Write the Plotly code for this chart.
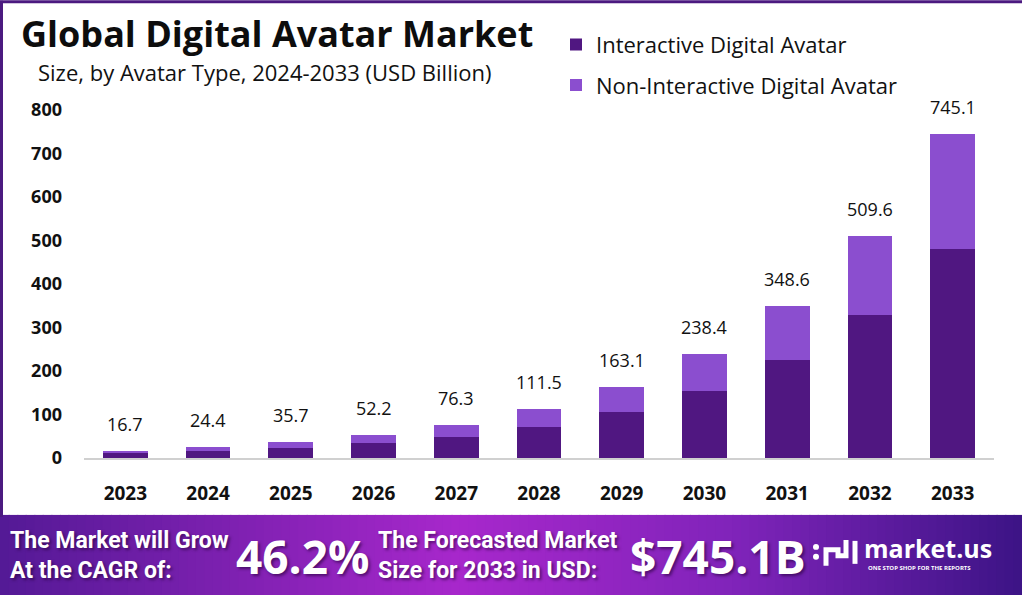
import plotly.graph_objects as go

years = ["2023", "2024", "2025", "2026", "2027", "2028", "2029", "2030", "2031", "2032", "2033"]
interactive = [10.8, 15.7, 23.0, 33.7, 49.2, 71.9, 105.2, 153.8, 224.8, 328.7, 481.0]
non_interactive = [5.9, 8.7, 12.7, 18.5, 27.1, 39.6, 57.9, 84.6, 123.8, 180.9, 264.1]
totals = [16.7, 24.4, 35.7, 52.2, 76.3, 111.5, 163.1, 238.4, 348.6, 509.6, 745.1]
y_ticks = [0, 100, 200, 300, 400, 500, 600, 700, 800]

DARK = "#501781"
LIGHT = "#8b4ecf"
FONT = "Open Sans"
COND = "Roboto"

fig = go.Figure()
fig.add_trace(go.Bar(x=years, y=interactive, name="Interactive Digital Avatar",
                     marker=dict(color=DARK, line=dict(width=0)), legendgroup="a"))
fig.add_trace(go.Bar(x=years, y=non_interactive, name="Non-Interactive Digital Avatar",
                     marker=dict(color=LIGHT, line=dict(width=0)), legendgroup="b"))

for i, t in enumerate(totals):
    fig.add_annotation(x=i, y=t, xref="x", yref="y", text=f"{t}", showarrow=False, yanchor="bottom",
                       yshift=13, font=dict(family=FONT, size=18, color="#111"))

L, R, T, B = 84, 994, 100.5, 458
def px(x):
    return (x - L) / (R - L)
def py(y):
    return (B - y) / (B - T)

shapes = []
stops = [(0.0, (84, 26, 150)), (0.45, (168, 40, 204)), (0.72, (128, 36, 186)), (1.0, (60, 20, 134))]
def col(t):
    for i in range(len(stops) - 1):
        a, ca = stops[i]
        b, cb = stops[i + 1]
        if a <= t <= b:
            f = (t - a) / (b - a)
            return "rgb(%d,%d,%d)" % tuple(int(ca[k] + (cb[k] - ca[k]) * f) for k in range(3))
    return "rgb(60,20,134)"
N = 120
for i in range(N):
    x0 = i * 1022 / N
    x1 = (i + 1) * 1022 / N + 1.5
    shapes.append(dict(type="rect", xref="paper", yref="paper", x0=px(x0), x1=px(x1),
                       y0=py(596), y1=py(515), fillcolor=col((i + 0.5) / N),
                       line=dict(width=0), layer="above"))
# border
shapes.append(dict(type="line", xref="paper", yref="paper", x0=px(0), x1=px(1022), y0=py(1), y1=py(1),
                   line=dict(color="#4b1a80", width=3), layer="above"))
shapes.append(dict(type="line", xref="paper", yref="paper", x0=px(1.5), x1=px(1.5), y0=py(0), y1=py(517),
                   line=dict(color="#4b1a80", width=3), layer="above"))
# logo icon (simple path)
pts = [(826, 566), (826, 550), (838, 550), (838, 556), (846, 556), (846, 540)]
path = "M " + " L ".join(f"{px(x)},{py(y)}" for x, y in pts)
shapes.append(dict(type="path", xref="paper", yref="paper", path=path,
                   line=dict(color="white", width=5), layer="above"))
for yy in (547, 557):
    shapes.append(dict(type="circle", xref="paper", yref="paper", x0=px(813), x1=px(819),
                       y0=py(yy + 3), y1=py(yy - 3), fillcolor="white", line=dict(width=0), layer="above"))
shapes.append(dict(type="line", xref="paper", yref="paper", x0=px(855), x1=px(855), y0=py(564), y1=py(541),
                   line=dict(color="white", width=5), layer="above"))
fig.update_layout(shapes=shapes)

def ann(x, y, text, size, family=FONT, color="#111", bold=False, shadow=None):
    f = dict(family=family, size=size, color=color)
    if shadow:
        f["shadow"] = shadow
    fig.add_annotation(xref="paper", yref="paper", x=px(x), y=py(y), text=(f"<b>{text}</b>" if bold else text),
                       showarrow=False, xanchor="left", yanchor="middle", align="left", font=f)

ann(19, 33, "Global Digital Avatar Market", 36, bold=True, color="#0d0d0d")
ann(36, 71, "Size, by Avatar Type, 2024-2033 (USD Billion)", 22, color="#111")

SH = "2px 2px 3px rgba(40,0,60,0.6)"
ann(8, 556, "The Market will Grow<br>At the CAGR of:", 23, family=COND, color="white", bold=True, shadow=SH)
ann(234, 556, "46.2%", 46, family=FONT, color="white", bold=True, shadow=SH)
ann(376, 556, "The Forecasted Market<br>Size for 2033 in USD:", 23, family=COND, color="white", bold=True, shadow=SH)
ann(628, 556, "$745.1B", 46, family=FONT, color="white", bold=True, shadow=SH)
ann(862, 548, "market.us", 25, family=FONT, color="white", bold=True)
ann(866, 568, "ONE STOP SHOP FOR THE REPORTS", 6, family=FONT, color="white", bold=True)

fig.update_layout(
    width=1022, height=595,
    margin=dict(l=L, r=1022 - R, t=T, b=595 - B),
    paper_bgcolor="white", plot_bgcolor="white",
    barmode="stack", bargap=0.46,
    showlegend=True,
    legend=dict(x=px(556), y=py(23), xanchor="left", yanchor="top",
                font=dict(family=FONT, size=22, color="#111"),
                tracegroupgap=9, bgcolor="rgba(0,0,0,0)", itemwidth=30),
    xaxis=dict(type="category", showgrid=False, showline=True, linecolor="#d0d0d0", linewidth=1.5,
               tickfont=dict(family=FONT, size=19, color="#111", weight="bold"),
               ticks="", ticklabelstandoff=17, range=[-0.5, 10.5]),
    yaxis=dict(range=[0, 820], tickvals=y_ticks, showgrid=False, zeroline=False, showline=False,
               tickfont=dict(family=FONT, size=18, color="#111", weight="bold"),
               ticks="", ticklabelstandoff=21),
)

fig.write_html("out.html", config={"displayModeBar": False},
               post_script="document.body.style.margin='0';document.body.style.overflow='hidden';")
